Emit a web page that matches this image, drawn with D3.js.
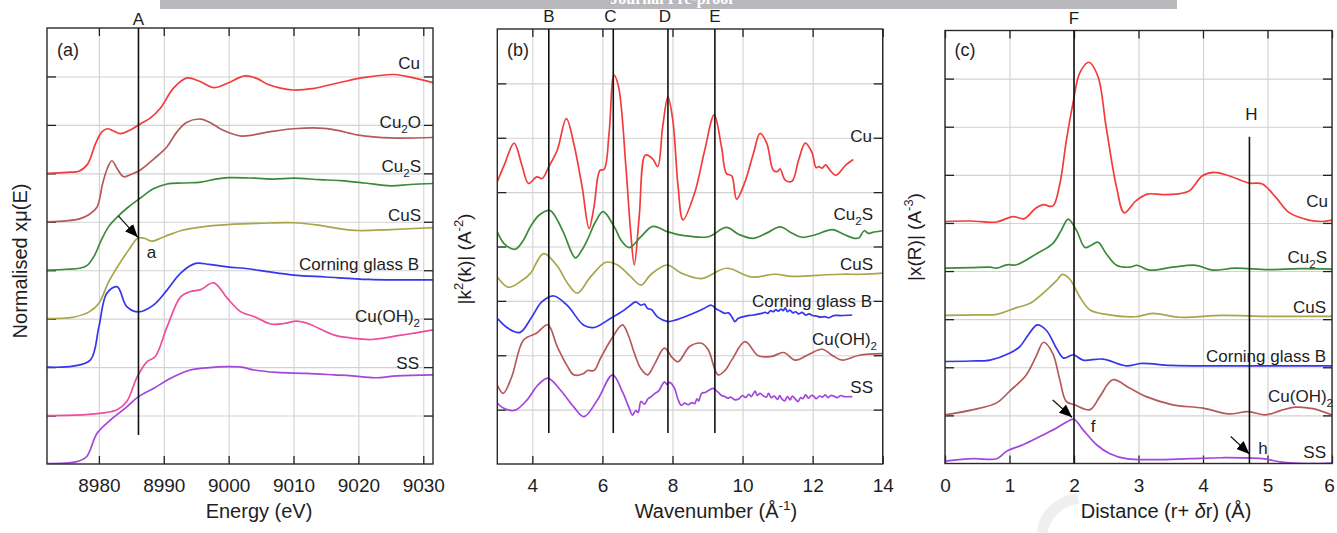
<!DOCTYPE html>
<html><head><meta charset="utf-8">
<script src="https://cdn.jsdelivr.net/npm/d3@7"></script>
<style>
html,body{margin:0;padding:0;background:#fff;}
svg{display:block;font-family:"Liberation Sans",Arial,Helvetica,sans-serif;}
</style></head><body>
<svg id="chart" width="1337" height="533"></svg>
<script>
// ---------- tick values ----------
const energyTicks = [8980, 8990, 9000, 9010, 9020, 9030];
const wavenumberTicks = [4, 6, 8, 10, 12, 14];
const distanceTicks = [0, 1, 2, 3, 4, 5, 6];
const offsetTicksA = [1, 2, 3, 4, 5, 6, 7, 8];
const offsetTicksB = [1, 2, 3, 4, 5, 6, 7];
const offsetTicksC = [1, 2, 3, 4, 5, 6, 7, 8];

// ---------- (a) XANES, normalised absorption (stacked) ----------
const xanesCu = [[8972,6.0],[8975,6.02],[8977,6.05],[8978.3,6.2],[8979.5,6.62],[8980.5,6.86],[8981.3,6.92],[8982.2,6.88],[8983.3,6.82],[8984.6,6.88],[8986.4,7.02],[8988,7.15],[8989.5,7.35],[8991.5,7.76],[8993.6,7.97],[8995.5,7.9],[8997.7,7.77],[8999.8,7.86],[9002.5,8.01],[9004.5,7.95],[9006,7.84],[9010,7.72],[9013,7.75],[9017.3,7.88],[9021,7.98],[9025.5,8.04],[9028.5,7.97],[9031.5,7.87]];
const xanesCu2O = [[8972,5.0],[8975,5.02],[8977,5.06],[8978.5,5.15],[8979.7,5.3],[8980.6,5.8],[8981.3,6.1],[8982,6.26],[8982.8,6.1],[8983.8,5.93],[8985,5.98],[8986.4,6.07],[8988.5,6.3],[8990.5,6.55],[8992,6.85],[8993.5,7.05],[8995.7,7.12],[8997.5,7.02],[8999,6.9],[9002,6.77],[9006,6.85],[9010,6.92],[9014.7,6.93],[9017,6.88],[9020,6.79],[9025,6.73],[9031.5,6.74]];
const xanesCu2S = [[8972,4.0],[8975,4.02],[8977,4.04],[8978.2,4.1],[8979.3,4.3],[8980.3,4.6],[8981.5,4.9],[8983,5.12],[8984.5,5.3],[8986.4,5.49],[8988.4,5.68],[8990.5,5.78],[8993,5.8],[8995.7,5.82],[8998,5.88],[9000,5.91],[9004,5.9],[9007,5.88],[9010,5.9],[9014,5.87],[9017.3,5.85],[9021,5.8],[9025,5.74],[9028,5.77],[9031.5,5.79]];
const xanesCuS = [[8972,3.0],[8976,3.03],[8978.5,3.14],[8980,3.32],[8981.5,3.76],[8983,4.1],[8984.6,4.42],[8986,4.66],[8987,4.66],[8988.2,4.6],[8989.5,4.66],[8991,4.74],[8993,4.83],[8995.7,4.89],[9000.8,4.95],[9005,4.97],[9010,4.98],[9013.8,4.93],[9017,4.86],[9020,4.82],[9025,4.84],[9031.5,4.88]];
const xanesCorning = [[8972,2.0],[8976,2.02],[8978.7,2.15],[8980,2.83],[8981.2,3.52],[8982.8,3.66],[8984.3,3.25],[8986.1,3.14],[8988.4,3.28],[8990.5,3.59],[8992.6,3.94],[8994.9,4.14],[8997,4.12],[8999.8,4.07],[9003,4.03],[9006,3.97],[9010,3.9],[9015,3.86],[9021.5,3.81],[9026,3.8],[9031.5,3.8]];
const xanesCuOH2 = [[8972,1.0],[8978,1.02],[8981,1.06],[8982.8,1.12],[8984.3,1.29],[8985.9,1.8],[8987.4,2.11],[8988.7,2.22],[8990.5,2.83],[8992.6,3.45],[8994.1,3.56],[8995.7,3.6],[8997.7,3.74],[8999.8,3.42],[9001.9,3.14],[9004,3.04],[9006.5,2.89],[9008.5,2.9],[9010.5,2.95],[9012.2,2.9],[9016.3,2.66],[9019,2.6],[9022,2.57],[9026.6,2.66],[9031.5,2.77]];
const xanesSS = [[8972,0.01],[8976.6,0.05],[8978.1,0.15],[8979.7,0.63],[8981.8,0.91],[8984.3,1.18],[8986.1,1.39],[8988.4,1.56],[8991.5,1.8],[8994.1,1.94],[8997,1.99],[8999.8,2.01],[9002,2.0],[9004,1.94],[9007.4,1.89],[9012,1.87],[9016.3,1.84],[9019,1.82],[9022.5,1.78],[9026,1.82],[9031.5,1.84]];

// ---------- (b) k2-weighted EXAFS (stacked) ----------
const exafsCu = [[3.0,5.19],[3.2,5.5],[3.48,5.9],[3.7,5.5],[3.89,5.16],[4.13,5.28],[4.28,5.25],[4.47,5.47],[4.71,5.77],[4.97,6.35],[5.18,5.9],[5.42,5.1],[5.62,4.33],[5.76,4.73],[5.93,5.4],[6.05,5.42],[6.19,6.08],[6.33,7.15],[6.46,6.94],[6.67,5.47],[6.81,4.24],[6.91,3.66],[7.05,4.55],[7.22,5.68],[7.34,5.66],[7.45,5.6],[7.58,5.47],[7.72,6.2],[7.87,6.75],[8.01,6.32],[8.16,5.1],[8.3,4.49],[8.63,4.98],[8.92,5.77],[9.19,6.42],[9.4,5.83],[9.54,5.34],[9.69,5.3],[9.83,4.87],[10.07,5.19],[10.31,5.71],[10.5,6.08],[10.69,5.9],[10.88,5.4],[11.0,5.38],[11.07,5.43],[11.22,5.22],[11.41,5.2],[11.6,5.59],[11.79,5.9],[11.98,5.73],[12.1,5.45],[12.18,5.47],[12.27,5.44],[12.37,5.5],[12.5,5.4],[12.66,5.31],[12.95,5.5],[13.16,5.6]];
const exafsCu2S = [[3.0,4.27],[3.2,4.05],[3.51,3.95],[3.75,4.12],[3.94,4.36],[4.2,4.58],[4.51,4.66],[4.7,4.5],[4.9,4.24],[5.23,3.79],[5.4,3.92],[5.57,4.12],[5.8,4.45],[6.02,4.64],[6.34,4.36],[6.55,4.1],[6.77,3.98],[7.1,4.18],[7.44,4.37],[7.87,4.27],[8.34,4.2],[9.02,4.18],[9.54,4.35],[9.9,4.22],[10.31,4.15],[10.7,4.25],[11.07,4.36],[11.4,4.25],[11.7,4.17],[12.1,4.22],[12.56,4.31],[12.9,4.22],[13.2,4.15],[13.33,4.16],[13.47,4.29],[13.6,4.24],[13.71,4.26],[14.0,4.29]];
const exafsCuS = [[3.0,3.44],[3.32,3.25],[3.65,3.35],[3.94,3.5],[4.32,3.87],[4.71,3.64],[5.0,3.33],[5.28,3.14],[5.66,3.44],[6.1,3.71],[6.43,3.66],[6.8,3.45],[7.1,3.29],[7.39,3.49],[7.85,3.66],[8.25,3.51],[8.83,3.41],[9.54,3.6],[10.26,3.44],[10.93,3.49],[11.4,3.45],[11.89,3.46],[12.4,3.48],[12.85,3.49],[13.4,3.49],[14.0,3.51]];
const exafsCorning = [[3.0,2.68],[3.32,2.49],[3.65,2.42],[3.98,2.7],[4.27,2.98],[4.61,3.09],[4.99,2.92],[5.47,2.55],[5.76,2.51],[6.24,2.68],[6.62,2.83],[6.8,2.92],[6.95,2.98],[7.1,2.92],[7.2,2.94],[7.29,2.86],[7.4,2.84],[7.58,2.7],[7.87,2.62],[8.1,2.65],[8.44,2.73],[8.7,2.8],[8.9,2.86],[9.11,2.92],[9.25,2.85],[9.35,2.82],[9.49,2.77],[9.6,2.78],[9.7,2.7],[9.78,2.62],[9.88,2.68],[10.1,2.72],[10.3,2.74],[10.55,2.77],[10.65,2.79],[10.72,2.77],[10.8,2.82],[10.88,2.8],[10.95,2.84],[11.02,2.81],[11.1,2.85],[11.16,2.82],[11.22,2.87],[11.28,2.8],[11.35,2.83],[11.44,2.78],[11.52,2.8],[11.6,2.76],[11.7,2.79],[11.8,2.74],[11.9,2.76],[12.0,2.73],[12.12,2.72],[12.22,2.7],[12.35,2.71],[12.46,2.69],[12.6,2.73],[12.8,2.73],[13.13,2.74]];
const exafsCuOH2 = [[3.0,1.45],[3.17,1.3],[3.41,1.6],[3.75,2.28],[4.13,2.41],[4.44,2.56],[4.71,2.16],[5.0,1.8],[5.18,1.64],[5.45,1.66],[5.57,1.72],[5.76,1.72],[5.95,1.95],[6.24,2.28],[6.57,2.56],[6.75,2.35],[6.91,2.04],[7.1,1.75],[7.29,1.64],[7.5,1.85],[7.77,2.13],[8.0,1.95],[8.16,1.88],[8.49,2.16],[8.83,2.22],[9.02,2.1],[9.3,1.64],[9.5,1.72],[9.69,1.91],[10.07,2.25],[10.45,1.99],[10.84,1.98],[11.17,2.05],[11.51,1.91],[11.9,2.02],[12.27,2.11],[12.6,1.98],[12.85,1.91],[13.33,2.0],[14.0,2.03]];
const exafsSS = [[3.0,1.12],[3.2,1.02],[3.51,0.99],[3.85,1.18],[4.13,1.43],[4.44,1.58],[4.8,1.36],[5.18,1.05],[5.47,0.87],[5.86,1.18],[6.29,1.64],[6.57,1.33],[6.75,1.05],[6.86,0.9],[6.95,0.98],[7.02,0.95],[7.1,1.15],[7.2,1.1],[7.3,1.2],[7.39,1.24],[7.5,1.3],[7.6,1.34],[7.7,1.45],[7.77,1.51],[7.85,1.46],[7.92,1.5],[8.06,1.39],[8.15,1.2],[8.25,1.08],[8.35,1.12],[8.45,1.09],[8.55,1.13],[8.63,1.11],[8.7,1.2],[8.75,1.16],[8.83,1.3],[8.95,1.32],[9.05,1.36],[9.16,1.39],[9.3,1.32],[9.4,1.26],[9.49,1.24],[9.58,1.21],[9.66,1.23],[9.78,1.18],[9.9,1.2],[10.0,1.26],[10.08,1.22],[10.18,1.28],[10.25,1.24],[10.36,1.34],[10.42,1.26],[10.5,1.3],[10.6,1.25],[10.68,1.23],[10.74,1.3],[10.82,1.22],[10.9,1.25],[11.0,1.19],[11.06,1.26],[11.12,1.2],[11.2,1.16],[11.28,1.24],[11.36,1.18],[11.42,1.25],[11.5,1.2],[11.58,1.15],[11.66,1.22],[11.72,1.2],[11.8,1.27],[11.88,1.21],[11.96,1.26],[12.04,1.24],[12.1,1.2],[12.2,1.25],[12.28,1.23],[12.36,1.27],[12.44,1.22],[12.52,1.26],[12.6,1.25],[12.7,1.22],[12.8,1.26],[12.9,1.24],[13.13,1.24]];

// ---------- (c) Fourier transform magnitude (stacked) ----------
const ftCu = [[0,5.03],[0.4,5.04],[0.8,5.02],[1.05,5.13],[1.23,5.09],[1.4,5.3],[1.52,5.38],[1.67,5.35],[1.78,5.81],[1.88,6.7],[1.98,7.46],[2.09,8.12],[2.23,8.34],[2.37,8.05],[2.5,6.98],[2.66,5.74],[2.78,5.21],[2.96,5.46],[3.14,5.6],[3.37,5.59],[3.58,5.6],[3.79,5.67],[3.99,5.98],[4.17,6.05],[4.4,5.98],[4.71,5.83],[4.92,5.81],[5.13,5.53],[5.33,5.22],[5.64,5.06],[5.85,5.03],[6.0,5.06]];
const ftCu2S = [[0,4.06],[0.4,4.07],[0.7,4.08],[0.8,4.06],[0.96,4.13],[1.11,4.13],[1.42,4.36],[1.67,4.57],[1.8,4.84],[1.91,5.08],[2.04,4.84],[2.17,4.49],[2.26,4.53],[2.37,4.6],[2.5,4.36],[2.66,4.12],[2.86,4.08],[2.98,4.12],[3.17,4.02],[3.53,4.08],[3.89,4.12],[4.15,4.02],[4.5,4.06],[5.0,4.03],[5.5,4.05],[6.0,4.04]];
const ftCuS = [[0,3.08],[0.5,3.09],[0.8,3.1],[1.11,3.24],[1.32,3.33],[1.57,3.6],[1.73,3.8],[1.82,3.93],[1.93,3.84],[2.09,3.46],[2.25,3.19],[2.5,3.1],[2.94,3.05],[3.22,3.12],[3.63,3.04],[4.3,3.08],[5.0,3.06],[6.0,3.06]];
const ftCorning = [[0,2.12],[0.4,2.13],[0.7,2.15],[1.0,2.29],[1.16,2.43],[1.29,2.67],[1.43,2.88],[1.57,2.77],[1.73,2.39],[1.84,2.19],[1.99,2.26],[2.14,2.15],[2.45,2.17],[2.81,2.03],[3.05,2.08],[3.5,2.04],[4.2,2.03],[5.0,2.03],[6.0,2.03]];
const ftCuOH2 = [[0,1.01],[0.44,1.12],[0.8,1.26],[1.0,1.5],[1.26,1.84],[1.41,2.22],[1.53,2.52],[1.67,2.29],[1.78,1.74],[1.88,1.29],[2.01,1.22],[2.25,1.12],[2.4,1.39],[2.6,1.74],[2.86,1.57],[3.12,1.39],[3.53,1.22],[4.0,1.15],[4.4,1.03],[4.7,1.08],[4.97,1.01],[5.2,1.1],[5.43,1.17],[5.7,1.14],[6.0,1.01]];
const ftSS = [[0,0.05],[0.44,0.1],[0.8,0.1],[0.96,0.26],[1.21,0.39],[1.47,0.56],[1.73,0.74],[1.91,0.88],[2.0,0.92],[2.14,0.7],[2.35,0.39],[2.55,0.21],[2.81,0.1],[3.27,0.08],[3.79,0.1],[4.3,0.12],[4.92,0.1],[5.22,0.03],[5.6,0.0],[6.0,0.01]];

const colors = {
  Cu: "#f23c3c", Cu2O: "#b45a5a", Cu2S: "#3b8a3b", CuS: "#a7a64a",
  Corning: "#3535ee", CuOH2a: "#ee4d9e", CuOH2: "#b45a5a", SS: "#a346dc"
};

const svg = d3.select("#chart");
const FONT_TEXT = "#1e1e1e";

// banner strip at the top
svg.append("rect").attr("x", 160).attr("y", 0).attr("width", 1017).attr("height", 9).attr("fill", "#b9b9bd");
svg.append("clipPath").attr("id", "bannerClip").append("rect").attr("x", 160).attr("y", 0).attr("width", 1017).attr("height", 9);
svg.append("text").attr("x", 672).attr("y", 3.5).attr("text-anchor", "middle")
  .attr("clip-path", "url(#bannerClip)")
  .attr("font-family", "Liberation Serif, serif").attr("font-weight", "bold")
  .attr("font-size", 16).attr("fill", "#fff").text("Journal Pre-proof");

// faint mark under panel (c)
svg.append("path").attr("d", "M1078,498 Q1046,505 1042,533").attr("fill", "none")
  .attr("stroke", "#efefef").attr("stroke-width", 11);

// arrow head marker
svg.append("defs").append("marker").attr("id", "ah")
  .attr("viewBox", "0 0 12 10").attr("refX", 12).attr("refY", 5)
  .attr("markerWidth", 13).attr("markerHeight", 11).attr("markerUnits", "userSpaceOnUse")
  .attr("orient", "auto")
  .append("path").attr("d", "M0,0 L12,5 L0,10 Z").attr("fill", "#000");

function panel(cfg) {
  const x = d3.scaleLinear().domain(cfg.xd).range([cfg.x0, cfg.x1]);
  const y = d3.scaleLinear().domain(cfg.yd).range([cfg.y1, cfg.y0]);
  const g = svg.append("g");
  const h = cfg.y1 - cfg.y0, w = cfg.x1 - cfg.x0;

  // grid
  const gx = g.append("g").attr("transform", `translate(0,${cfg.y1})`)
    .call(d3.axisBottom(x).tickValues(cfg.xTicks).tickSize(-h).tickFormat(""));
  const gy = g.append("g").attr("transform", `translate(${cfg.x0},0)`)
    .call(d3.axisLeft(y).tickValues(cfg.yTicks).tickSize(-w).tickFormat(""));
  [gx, gy].forEach(a => {
    a.select(".domain").remove();
    a.selectAll("line").attr("stroke", "#d2d2d2").attr("stroke-width", 1.1);
  });

  const clipId = "clip" + cfg.id;
  svg.append("clipPath").attr("id", clipId).append("rect")
    .attr("x", cfg.x0).attr("y", cfg.y0).attr("width", w).attr("height", h);

  // tick marks on all four sides
  const tickLen = 8;
  const axes = [
    g.append("g").attr("transform", `translate(0,${cfg.y1})`)
      .call(d3.axisBottom(x).tickValues(cfg.xTicks).tickSize(-tickLen).tickPadding(15).tickFormat(d3.format("d"))),
    g.append("g").attr("transform", `translate(0,${cfg.y0})`)
      .call(d3.axisTop(x).tickValues(cfg.xTicks).tickSize(-tickLen).tickFormat("")),
    g.append("g").attr("transform", `translate(${cfg.x0},0)`)
      .call(d3.axisLeft(y).tickValues(cfg.yTicks).tickSize(-9).tickFormat("")),
    g.append("g").attr("transform", `translate(${cfg.x1},0)`)
      .call(d3.axisRight(y).tickValues(cfg.yTicks).tickSize(-9).tickFormat(""))
  ];
  axes.forEach(a => {
    a.select(".domain").remove();
    a.selectAll("line").attr("stroke", "#222").attr("stroke-width", 1.3);
    a.selectAll("text").attr("font-size", 19).attr("fill", FONT_TEXT)
      .attr("font-family", "Liberation Sans, Arial, sans-serif");
  });
  // keep the last label inside the page
  if (cfg.lastLabelShift) {
    axes[0].selectAll(".tick").filter((d, i, n) => i === n.length - 1)
      .select("text").attr("dx", cfg.lastLabelShift);
  }

  // curves
  const line = d3.line().x(d => x(d[0])).y(d => y(d[1])).curve(d3.curveCatmullRom.alpha(0.5));
  const cg = g.append("g").attr("clip-path", `url(#${clipId})`);
  cfg.series.forEach(s => {
    cg.append("path").datum(s.data).attr("d", line).attr("fill", "none")
      .attr("stroke", s.color).attr("stroke-width", 1.7).attr("stroke-linejoin", "round");
  });

  // frame
  g.append("rect").attr("x", cfg.x0).attr("y", cfg.y0).attr("width", w).attr("height", h)
    .attr("fill", "none").attr("stroke", "#2a2a2a").attr("stroke-width", 1.4);

  return { g, x, y };
}

// text made of plain runs, subscripts, superscripts and italic runs
function richText(g, px, py, parts, size, anchor) {
  const t = g.append("text").attr("x", px).attr("y", py).attr("font-size", size)
    .attr("fill", FONT_TEXT).attr("text-anchor", anchor || "end");
  let shift = 0;
  parts.forEach(p => {
    if (typeof p === "string") {
      t.append("tspan").attr("dy", -shift).text(p); shift = 0;
    } else if (p.it) {
      t.append("tspan").attr("dy", -shift).attr("font-style", "italic").text(p.it); shift = 0;
    } else {
      const d = p.sub ? size * 0.3 : -size * 0.42;
      t.append("tspan").attr("dy", d - shift).attr("font-size", size * 0.68)
        .text(p.sub || p.sup);
      shift = d;
    }
  });
  return t;
}

function vline(p, xv, y0v, y1v) {
  p.g.append("line").attr("x1", p.x(xv)).attr("x2", p.x(xv))
    .attr("y1", p.y(y0v)).attr("y2", p.y(y1v)).attr("stroke", "#111").attr("stroke-width", 1.6);
}
function arrow(p, from, to) {
  p.g.append("line").attr("x1", p.x(from[0])).attr("y1", p.y(from[1]))
    .attr("x2", p.x(to[0])).attr("y2", p.y(to[1])).attr("stroke", "#111")
    .attr("stroke-width", 1.2).attr("marker-end", "url(#ah)");
}
function plain(g, px, py, s, size, anchor) {
  return g.append("text").attr("x", px).attr("y", py).attr("font-size", size)
    .attr("fill", FONT_TEXT).attr("text-anchor", anchor || "middle").text(s);
}

// ================= (a) =================
const pa = panel({
  id: "a", x0: 47, x1: 433, y0: 28, y1: 464, xd: [8972, 9031.5], yd: [0, 9],
  xTicks: energyTicks, yTicks: offsetTicksA,
  series: [
    { data: xanesCu, color: colors.Cu }, { data: xanesCu2O, color: colors.Cu2O },
    { data: xanesCu2S, color: colors.Cu2S }, { data: xanesCuS, color: colors.CuS },
    { data: xanesCorning, color: colors.Corning }, { data: xanesCuOH2, color: colors.CuOH2a },
    { data: xanesSS, color: colors.SS }
  ]
});
vline(pa, 8986.1, 9, 0.6);
plain(pa.g, pa.x(8986.1), 25, "A", 17);
arrow(pa, [8983.0, 5.12], [8986.0, 4.68]);
plain(pa.g, 151.5, 258, "a", 17);
plain(pa.g, 68, 56, "(a)", 18);
richText(pa.g, 420, 69, ["Cu"], 17);
richText(pa.g, 421, 128, ["Cu", { sub: "2" }, "O"], 17);
richText(pa.g, 421, 172, ["Cu", { sub: "2" }, "S"], 17);
richText(pa.g, 421, 221, ["CuS"], 17);
richText(pa.g, 419, 270, ["Corning glass B"], 17);
richText(pa.g, 420, 322, ["Cu(OH)", { sub: "2" }], 17);
richText(pa.g, 419, 369, ["SS"], 17);
plain(pa.g, 259, 518, "Energy (eV)", 20);
svg.append("text").attr("transform", "translate(27,261) rotate(-90)")
  .attr("text-anchor", "middle").attr("font-size", 20).attr("fill", FONT_TEXT)
  .text("Normalised xμ(E)");

// ================= (b) =================
const pb = panel({
  id: "b", x0: 497.3, x1: 882.7, y0: 29, y1: 464, xd: [3, 14], yd: [0, 8],
  xTicks: wavenumberTicks, yTicks: offsetTicksB,
  series: [
    { data: exafsCu, color: colors.Cu }, { data: exafsCu2S, color: colors.Cu2S },
    { data: exafsCuS, color: colors.CuS }, { data: exafsCorning, color: colors.Corning },
    { data: exafsCuOH2, color: colors.CuOH2 }, { data: exafsSS, color: colors.SS }
  ]
});
const refLinesB = [["B", 4.47], ["C", 6.31], ["D", 7.87], ["E", 9.21]];
refLinesB.forEach(([lab, k]) => {
  vline(pb, k, 8, 0.57);
  plain(pb.g, pb.x(k) - (lab === "C" || lab === "D" ? 3 : 0), 22, lab, 17);
});
plain(pb.g, 518, 56, "(b)", 18);
richText(pb.g, 872, 142, ["Cu"], 17);
richText(pb.g, 873, 220, ["Cu", { sub: "2" }, "S"], 17);
richText(pb.g, 873, 270, ["CuS"], 17);
richText(pb.g, 872, 307, ["Corning glass B"], 17);
richText(pb.g, 877, 345, ["Cu(OH)", { sub: "2" }], 17);
richText(pb.g, 873, 393, ["SS"], 17);
richText(pb.g, 716, 518, ["Wavenumber (Å", { sup: "-1" }, ")"], 20, "middle");
richText(svg.append("g").attr("transform", "translate(471,259) rotate(-90)"), 0, 0,
  ["|k", { sup: "2" }, "(k)| (A", { sup: "-2" }, ")"], 19, "middle");

// ================= (c) =================
const pc = panel({
  id: "c", x0: 945, x1: 1332, y0: 30.5, y1: 463.5, xd: [0, 6], yd: [0, 9],
  xTicks: distanceTicks, yTicks: offsetTicksC, lastLabelShift: -3,
  series: [
    { data: ftCu, color: colors.Cu }, { data: ftCu2S, color: colors.Cu2S },
    { data: ftCuS, color: colors.CuS }, { data: ftCorning, color: colors.Corning },
    { data: ftCuOH2, color: colors.CuOH2 }, { data: ftSS, color: colors.SS }
  ]
});
vline(pc, 2.0, 9, 0);
plain(pc.g, pc.x(2.0), 24, "F", 17);
vline(pc, 4.72, 6.79, 0);
plain(pc.g, pc.x(4.72) + 2, 120, "H", 17);
arrow(pc, [1.67, 1.32], [1.97, 0.96]);
arrow(pc, [4.43, 0.56], [4.72, 0.2]);
plain(pc.g, 1093, 432, "f", 17);
plain(pc.g, 1263, 454, "h", 17);
plain(pc.g, 965, 56, "(c)", 18);
richText(pc.g, 1328, 207, ["Cu"], 17);
richText(pc.g, 1327, 263, ["Cu", { sub: "2" }, "S"], 17);
richText(pc.g, 1326, 313, ["CuS"], 17);
richText(pc.g, 1326, 362, ["Corning glass B"], 17);
richText(pc.g, 1333, 402, ["Cu(OH)", { sub: "2" }], 17);
richText(pc.g, 1326, 458, ["SS"], 17);
richText(pc.g, 1166, 518, ["Distance (r+ ", { it: "δ" }, "r) (Å)"], 20, "middle");
richText(svg.append("g").attr("transform", "translate(921,237) rotate(-90)"), 0, 0,
  ["|x(R)| (A", { sup: "-3" }, ")"], 19, "middle");
</script>
</body></html>
